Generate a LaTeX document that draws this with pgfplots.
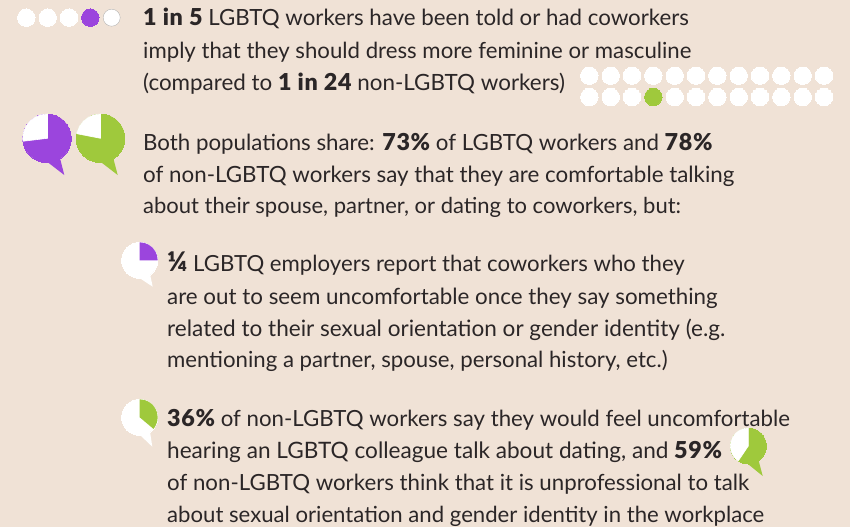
\documentclass[border=0pt]{standalone}
\usepackage{pgfplots}
\pgfplotsset{compat=1.18}
\usepackage{fontspec}
\setmainfont{Lato}[BoldFont={Lato Black}]
\definecolor{bg}{HTML}{F0E2D6}
\definecolor{ink}{HTML}{2B2627}
\definecolor{purp}{HTML}{9B45DD}
\definecolor{lime}{HTML}{9FC93C}
% text line in pixel coordinates of the page: x, baseline y, size, text
\newcommand{\txt}[4]{\node[anchor=base west,inner sep=0pt,text=ink,font=\fontsize{#3}{23}\selectfont] at (axis cs:#1,#2) {#4};}
\newcommand{\bb}[1]{{\fontsize{23.3}{23}\selectfont\bfseries\addfontfeature{LetterSpace=3}#1}}
\begin{document}
\begin{tikzpicture}
\begin{axis}[
  width=850pt, height=527pt, scale only axis,
  xmin=0, xmax=850, ymin=0, ymax=527, y dir=reverse,
  hide axis, clip=false, clip mode=individual,
]
% page background
\addplot[fill=bg, draw=none] coordinates {(0,0) (850,0) (850,527) (0,527)};

% 1 in 5 dots
\addplot[only marks, mark=*, mark size=8.7pt, mark options={fill=white, draw=white, line width=0pt}]
  coordinates {(26.3,17.7) (47.7,17.7) (69,17.7)};
\addplot[only marks, mark=*, mark size=8.7pt, mark options={fill=purp, draw=purp, line width=0pt}]
  coordinates {(90.3,17.7)};
\addplot[only marks, mark=*, mark size=8.5pt, mark options={fill=white, draw=black!35, line width=0.3pt}]
  coordinates {(111.7,17.7)};

% 1 in 24 dots
\addplot[only marks, mark=*, mark size=8.7pt, mark options={fill=white, draw=white, line width=0pt}]
  coordinates {
  (589.3,75.7) (610.7,75.7) (632,75.7) (653.3,75.7) (674.7,75.7) (696,75.7)
  (717.3,75.7) (738.7,75.7) (760,75.7) (781.3,75.7) (802.7,75.7) (824,75.7)
  (589.3,97) (610.7,97) (632,97) (674.7,97) (696,97)
  (717.3,97) (738.7,97) (760,97) (781.3,97) (802.7,97) (824,97)};
\addplot[only marks, mark=*, mark size=8.7pt, mark options={fill=lime, draw=lime, line width=0pt}]
  coordinates {(653.3,97)};

% bubble 73%
\addplot[fill=purp, draw=none] coordinates {(47,150) (48.3,162.7) (64.3,175) (60,158.3)};
\addplot[only marks, mark=*, mark size=24.3pt, mark options={fill=purp, draw=purp, line width=0pt}] coordinates {(47,138.3)};
\addplot[fill=white, draw=white, line width=0.6pt] coordinates {(47.5,138.3) (47.5,114) (40.71,114.83) (34.85,117.26) (29.82,121.12) (25.96,126.15) (23.53,132.01) (22.7,138.3) (22.88,141.26) (47.5,138.3)};

% bubble 78%
\addplot[fill=lime, draw=none] coordinates {(100.5,150) (101.7,162.7) (117.7,175) (113.3,158.3)};
\addplot[only marks, mark=*, mark size=24.3pt, mark options={fill=lime, draw=lime, line width=0pt}] coordinates {(100.5,138.3)};
\addplot[fill=white, draw=white, line width=0.6pt] coordinates {(100.5,138.3) (100.5,114) (94.21,114.83) (88.35,117.26) (83.32,121.12) (79.46,126.15) (77.03,132.01) (76.65,133.66) (100.5,138.3)};

% bubble 1/4
\addplot[fill=white, draw=none] coordinates {(139.7,270) (140,278.3) (152.7,286.7) (150,274)};
\addplot[only marks, mark=*, mark size=18pt, mark options={fill=white, draw=white, line width=0pt}] coordinates {(139.7,260.3)};
\addplot[fill=purp, draw=none] coordinates {(139.7,260.3) (139.7,242.3) (144.36,242.91) (148.7,244.71) (152.43,247.57) (155.29,251.3) (157.09,255.64) (157.7,260.3)};

% bubble 36%
\addplot[fill=white, draw=none] coordinates {(139.7,425) (140,435) (152.3,446.7) (150,431.7)};
\addplot[only marks, mark=*, mark size=18pt, mark options={fill=white, draw=white, line width=0pt}] coordinates {(139.7,417.3)};
\addplot[fill=lime, draw=none] coordinates {(139.7,417.3) (139.7,399.3) (144.36,399.91) (148.7,401.71) (152.43,404.57) (155.29,408.3) (157.09,412.64) (157.7,417.3) (157.09,421.96) (155.29,426.3) (153.49,428.87)};

% bubble 59%
\addplot[fill=lime, draw=none] coordinates {(748.3,455) (748.3,464.3) (762.7,476) (758.3,459.3)};
\addplot[only marks, mark=*, mark size=18pt, mark options={fill=lime, draw=lime, line width=0pt}] coordinates {(748.3,446)};
\addplot[fill=white, draw=white, line width=0.6pt] coordinates {(748.3,446) (748.3,428) (743.64,428.61) (739.3,430.41) (735.57,433.27) (732.71,437) (730.91,441.34) (730.3,446) (730.91,450.66) (732.71,455) (735.57,458.73) (738.23,460.92) (748.3,446)};

\txt{143}{26}{22.3}{\bb{1 in 5} LGBTQ workers have been told or had coworkers}
\txt{143}{59}{22.2}{imply that they should dress more feminine or masculine}
\txt{143}{90}{22.4}{(compared to \bb{1 in 24} non-LGBTQ workers)}
\txt{143}{150}{22.3}{Both populations share: \bb{73\%} of LGBTQ workers and \bb{78\%}}
\txt{143}{182}{22.35}{of non-LGBTQ workers say that they are comfortable talking}
\txt{143}{213}{22.0}{about their spouse, partner, or dating to coworkers, but:}
\txt{167}{271.5}{22.2}{{\fontsize{27}{23}\selectfont\bfseries ¼} LGBTQ employers report that coworkers who they}
\txt{167}{304}{22.35}{are out to seem uncomfortable once they say something}
\txt{167}{336}{22.55}{related to their sexual orientation or gender identity (e.g.}
\txt{167}{367}{22.2}{mentioning a partner, spouse, personal history, etc.)}
\txt{167}{426}{22.25}{\bb{36\%} of non-LGBTQ workers say they would feel uncomfortable}
\txt{167}{458}{22.6}{hearing an LGBTQ colleague talk about dating, and \bb{59\%}}
\txt{167}{490}{22.25}{of non-LGBTQ workers think that it is unprofessional to talk}
\txt{167}{522.5}{22.15}{about sexual orientation and gender identity in the workplace}
\end{axis}
\end{tikzpicture}
\end{document}
